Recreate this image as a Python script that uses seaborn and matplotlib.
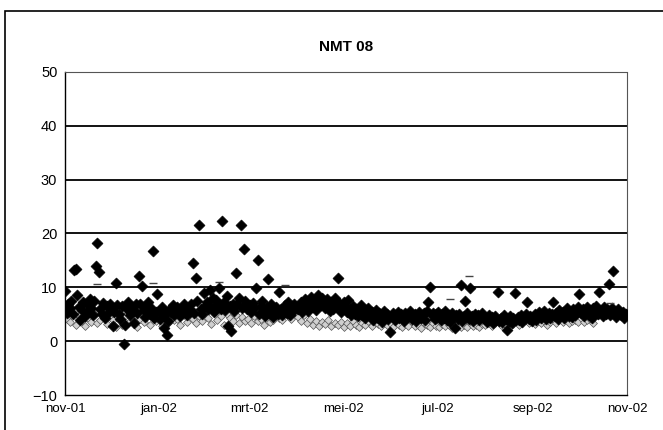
import numpy as np
import pandas as pd
import matplotlib
matplotlib.use("Agg")
import matplotlib.pyplot as plt
import matplotlib.dates as mdates
from matplotlib.patches import Rectangle
import seaborn as sns

# ── data ────────────────────────────────────────────────────
title = "NMT 08"
tick_dates = ["2001-11-01", "2002-01-01", "2002-03-01", "2002-05-01",
              "2002-07-01", "2002-09-01", "2002-11-01"]
tick_labels = ["nov-01", "jan-02", "mrt-02", "mei-02", "jul-02", "sep-02", "nov-02"]
y_ticks = [-10, 0, 10, 20, 30, 40, 50]

# daily values, black diamonds
nov = [9.3, 5.2, 7.0, 6.1, 7.5, 5.0, 13.3, 13.5, 8.6, 6.4, 3.9, 5.8, 7.2, 4.6, 6.9,
       5.5, 7.8, 6.2, 4.9, 7.4, 13.9, 18.3, 12.9, 6.0, 5.1, 7.1, 4.4, 6.6, 5.3, 7.0]
dec = [6.2, 2.8, 5.4, 10.9, 6.8, 5.1, 4.2, 6.5, -0.5, 3.1, 5.9, 7.2, 4.8, 6.3, 5.6,
       3.4, 6.9, 5.2, 12.1, 7.0, 10.2, 5.8, 4.5, 6.6, 7.3, 5.0, 6.1, 16.8, 4.3, 5.5, 8.7]
jan = [5.6, 4.1, 6.3, 2.4, 5.0, 1.1, 3.8, 6.0, 5.4, 6.7, 4.9, 5.8, 6.4, 5.2, 4.6,
       6.1, 7.0, 5.5, 4.8, 6.2, 5.7, 6.9, 14.6, 5.3, 11.8, 7.4, 21.6, 6.0, 5.1, 8.9, 6.5]
feb = [7.2, 5.9, 9.6, 6.4, 8.1, 5.5, 7.7, 6.8, 9.9, 6.0, 22.4, 7.3, 5.8, 8.4, 2.8,
       6.5, 1.9, 7.0, 5.6, 12.6, 6.9, 8.0, 21.6, 6.2, 17.2, 7.5, 5.9, 6.7]
mar = [6.8, 5.4, 7.1, 6.2, 9.9, 15.1, 5.0, 6.6, 7.4, 5.8, 4.7, 6.3, 11.5, 5.2, 6.9,
       4.5, 5.7, 6.4, 5.1, 9.2, 6.0, 4.8, 5.5, 6.7, 5.3, 7.2, 4.9, 6.1, 5.6, 7.0, 6.3]
apr = [5.9, 6.5, 7.3, 5.4, 6.8, 7.9, 6.1, 5.6, 7.0, 8.3, 6.4, 7.6, 5.8, 8.6, 7.2,
       6.7, 8.1, 7.4, 6.2, 7.8, 6.9, 5.7, 7.3, 6.0, 8.0, 6.6, 11.8, 7.1, 5.5, 6.4]
may = [7.2, 6.3, 5.4, 7.6, 5.9, 4.8, 6.5, 5.1, 6.0, 4.6, 5.5, 6.8, 4.9, 5.7, 4.3,
       5.2, 6.1, 4.7, 5.4, 3.9, 5.0, 5.8, 4.4, 5.3, 4.9, 3.6, 5.6, 4.5, 5.1, 4.2, 1.7]
jun = [4.6, 5.2, 3.9, 4.8, 5.5, 4.3, 5.0, 4.7, 3.8, 5.3, 4.5, 4.9, 5.6, 4.1, 4.8,
       5.1, 3.7, 4.6, 5.4, 4.4, 4.9, 5.2, 4.0, 5.7, 7.3, 10.0, 4.8, 5.3, 4.2, 5.0]
jul = [5.4, 4.7, 3.9, 5.1, 4.4, 5.6, 4.0, 4.8, 3.6, 5.2, 4.5, 2.5, 4.9, 4.2, 5.0,
       10.4, 3.8, 4.6, 7.5, 5.3, 4.1, 9.9, 4.7, 3.7, 5.1, 4.4, 4.9, 3.9, 4.6, 5.2, 4.3]
aug = [4.2, 3.6, 4.9, 3.9, 4.5, 3.3, 4.7, 4.0, 9.2, 3.8, 4.4, 3.5, 4.8, 4.1, 2.0,
       3.7, 4.6, 3.4, 4.3, 9.0, 3.9, 4.5, 4.0, 4.8, 3.6, 4.4, 5.0, 7.3, 4.2, 4.7, 3.8]
sep = [4.5, 5.1, 4.0, 4.8, 5.4, 4.3, 4.9, 5.6, 4.2, 4.7, 5.2, 4.4, 5.0, 7.3, 4.6,
       5.3, 4.1, 5.8, 4.8, 5.5, 4.3, 5.0, 6.2, 4.7, 5.4, 4.5, 5.9, 4.9, 5.2, 6.4]
oct = [8.7, 5.2, 6.0, 4.7, 5.6, 6.4, 4.9, 5.8, 4.4, 6.1, 5.3, 6.6, 5.0, 9.2, 5.7,
       4.6, 6.3, 5.1, 5.9, 10.7, 4.8, 6.2, 13.0, 5.4, 4.5, 6.0, 5.2, 4.9, 5.5, 4.3, 5.0]

# lower series (every second day), small grey diamonds
low = [4.2, 3.5, 5.0, 3.1, 4.6, 3.8, 2.9, 4.4, 3.6, 5.1, 3.3, 4.0, 4.8, 3.2, 4.5,
       3.9, 2.7, 4.3, 3.0, 4.7, 3.4, 5.2, 3.8, 2.6, 4.1, 3.5, 4.9, 3.1, 4.4, 3.7,
       4.0, 2.8, 4.6, 3.3, 5.0, 3.9, 4.2, 3.0, 4.8, 3.6, 5.3, 4.1, 3.4, 4.7, 3.8,
       5.1, 4.4, 3.2, 5.5, 3.9, 4.6, 3.1, 5.0, 4.3, 3.7, 4.9, 3.4, 4.5, 3.8, 4.1,
       3.3, 4.6, 3.7, 4.2, 3.0, 4.8, 3.5, 4.0, 5.2, 4.4, 3.9, 5.6, 4.7, 4.1, 5.3,
       4.5, 3.8, 4.9, 3.4, 4.2, 3.1, 3.8, 2.9, 3.5, 3.2, 3.9, 2.8, 3.4, 3.0, 3.6,
       2.7, 3.3, 2.9, 3.7, 3.1, 2.6, 3.4, 3.0, 3.8, 2.8, 3.5, 3.2, 2.9, 3.6, 3.0,
       3.3, 2.7, 3.5, 3.0, 2.6, 3.2, 2.9, 3.6, 2.8, 3.1, 2.5, 3.4, 3.0, 2.7, 3.3,
       2.9, 2.6, 3.2, 2.8, 3.0, 2.5, 3.3, 2.9, 2.7, 3.1, 2.6, 3.4, 2.8, 3.0, 2.7,
       3.2, 3.0, 3.5, 2.8, 3.3, 3.7, 3.0, 3.4, 2.9, 3.6, 3.2, 3.8, 3.1, 3.5, 3.9,
       3.3, 3.7, 3.2, 4.0, 3.4, 3.8, 3.1, 3.6, 4.1, 3.3, 3.9, 3.5, 4.2, 3.4, 3.7,
       4.0, 3.6, 4.3, 3.5, 3.9, 4.1, 3.4]

# sparse dashes above the band
dash_dates = ["2001-11-22", "2001-12-28", "2002-02-09", "2002-03-24",
              "2002-07-09", "2002-07-21", "2002-10-21"]
dash_vals = [10.6, 10.8, 11.0, 10.4, 7.9, 12.1, 7.1]

# ── build frames ────────────────────────────────────────────
main_vals = nov + dec + jan + feb + mar + apr + may + jun + jul + aug + sep + oct
df_main = pd.DataFrame({
    "date": pd.date_range("2001-11-01", periods=len(main_vals), freq="D"),
    "value": main_vals,
})
df_low = pd.DataFrame({
    "date": pd.date_range("2001-11-02", periods=len(low), freq="2D"),
    "value": low,
})
df_dash = pd.DataFrame({"date": pd.to_datetime(dash_dates), "value": dash_vals})

# ── plot ────────────────────────────────────────────────────
sns.set_style("white")
plt.rcParams["font.family"] = ["Liberation Sans Narrow", "Liberation Sans", "DejaVu Sans"]
plt.rcParams["text.color"] = "black"
plt.rcParams["xtick.color"] = "black"
plt.rcParams["ytick.color"] = "black"

fig = plt.figure(figsize=(6.63, 4.30), dpi=100)
ax = fig.add_axes([0.098, 0.081, 0.848, 0.752])

for y in y_ticks[1:]:
    ax.axhline(y, color="black", lw=1.3, zorder=1)

sns.scatterplot(data=df_low, x="date", y="value", marker="D", s=16,
                color="#d0d0d0", edgecolor="#555555", linewidth=0.5, ax=ax, zorder=2)
sns.scatterplot(data=df_main, x="date", y="value", marker="D", s=32,
                color="black", edgecolor="black", linewidth=0.4, ax=ax, zorder=3)
sns.scatterplot(data=df_dash, x="date", y="value", marker="_", s=30,
                color="#444444", linewidth=1.0, ax=ax, zorder=3)

ax.set_xlim(pd.Timestamp("2001-11-01"), pd.Timestamp("2002-11-01"))
ax.set_ylim(-10, 50)
ax.set_yticks(y_ticks)
ax.set_yticks(np.arange(-5, 50, 10), minor=True)
ax.set_xticks(pd.to_datetime(tick_dates))
ax.set_xticklabels(tick_labels)
ax.xaxis.set_minor_locator(mdates.MonthLocator())
ax.tick_params(axis="both", which="both", direction="inout", length=5,
               width=0.8, labelsize=9.5, pad=3, colors="black")
ax.tick_params(axis="y", labelsize=10.5)
ax.tick_params(axis="x", which="minor", length=3)
ax.set_xlabel("")
ax.set_ylabel("")

for side in ["left", "bottom"]:
    ax.spines[side].set_color("black")
    ax.spines[side].set_linewidth(1.0)
for side in ["top", "right"]:
    ax.spines[side].set_color("#555555")
    ax.spines[side].set_linewidth(0.8)
ax.spines["right"].set_linestyle((0, (2, 1)))

ax.set_title(title, fontsize=11, fontweight="bold", pad=15, color="black")

# outer chart frame
fig.patches.append(Rectangle((0.008, -0.05), 1.1, 1.025, transform=fig.transFigure,
                             fill=False, lw=1.2, color="black"))

plt.savefig("out.png", dpi=100)
